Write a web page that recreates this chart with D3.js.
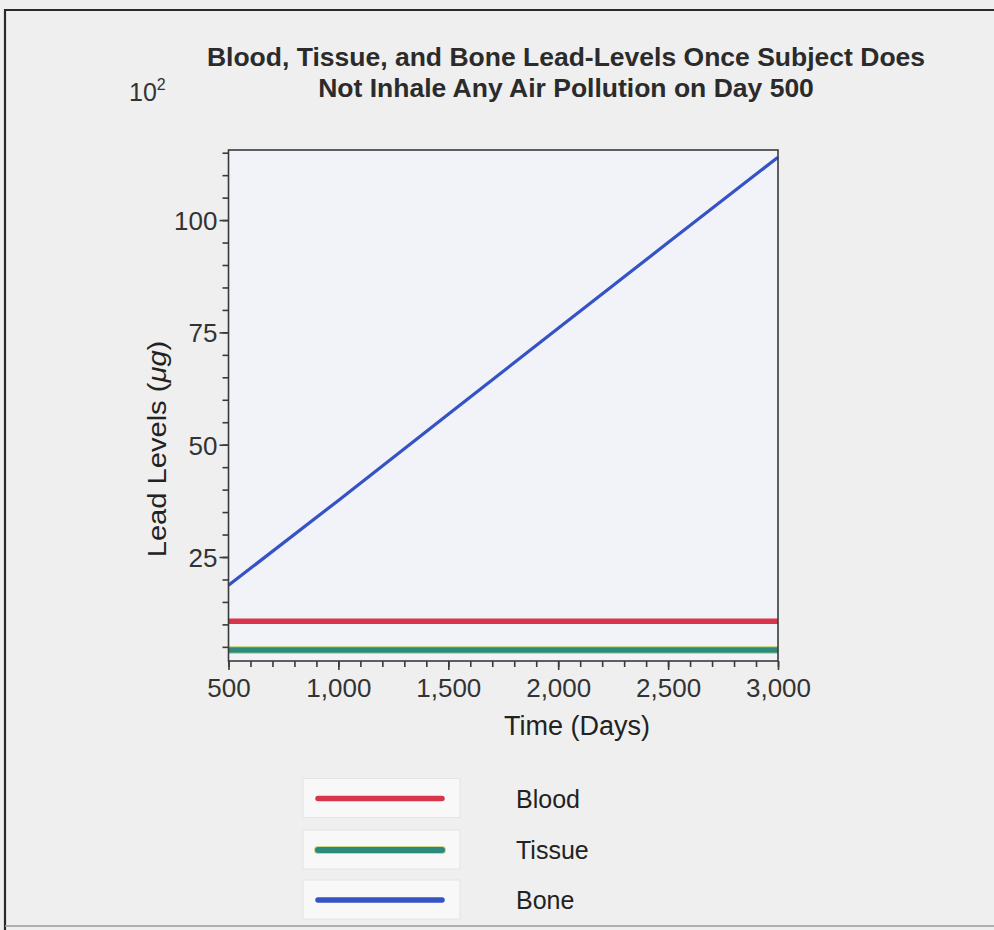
<!DOCTYPE html>
<html>
<head>
<meta charset="utf-8">
<script src="https://cdn.jsdelivr.net/npm/d3@7"></script>
<style>
  html, body { margin: 0; padding: 0; background: #efefef; }
  svg { display: block; }
  text { font-family: "Liberation Sans", Arial, sans-serif; }
</style>
</head>
<body>
<svg id="chart" width="994" height="930"></svg>
<script>
// Series (values in units of 10^2 µg), sampled along time in days
const blood  = [[500, 10.7], [1000, 10.7], [1500, 10.7], [2000, 10.7], [2500, 10.7], [3000, 10.7]];
const tissue = [[500, 4.3], [1000, 4.3], [1500, 4.3], [2000, 4.3], [2500, 4.3], [3000, 4.3]];
const bone   = [[500, 18.7], [1000, 37.6], [1500, 56.8], [2000, 75.9], [2500, 95.0], [3000, 114.0]];

const seriesNames  = ["Blood", "Tissue", "Bone"];
const seriesColors = ["#d8344b", "#2b8a7b", "#3553c4"];

const xTicks = [500, 1000, 1500, 2000, 2500, 3000];
const yTicks = [25, 50, 75, 100];

const titleLines = ["Blood, Tissue, and Bone Lead-Levels Once Subject Does",
                    "Not Inhale Any Air Pollution on Day 500"];

const svg = d3.select("#chart");
const W = 994, H = 930;

// Page background and outer frame
svg.append("rect").attr("width", W).attr("height", H).attr("fill", "#efefef");
svg.append("path").attr("fill", "none").attr("stroke", "#2a2a2a").attr("stroke-width", 2.2)
  .attr("d", `M5,${H} V10 H${W}`);
svg.append("line").attr("x1", 5).attr("x2", W).attr("y1", 926).attr("y2", 926)
  .attr("stroke", "#9a9a9a").attr("stroke-width", 1.5);

// Plot area
const plot = {left: 228.5, right: 778, top: 150, bottom: 661};

const x = d3.scaleLinear().domain([500, 3000]).range([plot.left, plot.right]);
const y = d3.scaleLinear().domain([1.85, 115.6]).range([plot.bottom, plot.top]);

svg.append("rect")
  .attr("x", plot.left).attr("y", plot.top)
  .attr("width", plot.right - plot.left).attr("height", plot.bottom - plot.top)
  .attr("fill", "#f2f2f9");

// Series lines
const line = d3.line().x(d => x(d[0])).y(d => y(d[1]));
const lines = svg.append("g");

lines.append("path").datum(blood)
  .attr("d", line).attr("fill", "none")
  .attr("stroke", seriesColors[0]).attr("stroke-width", 5.5);

lines.append("path").datum(tissue)
  .attr("d", line).attr("fill", "none")
  .attr("stroke", "#c9d98a").attr("stroke-width", 8);
lines.append("path").datum(tissue)
  .attr("d", line).attr("fill", "none")
  .attr("stroke", seriesColors[1]).attr("stroke-width", 5.5);

lines.append("path").datum(bone)
  .attr("d", line).attr("fill", "none")
  .attr("stroke", seriesColors[2]).attr("stroke-width", 3.2);

// Frame
svg.append("rect")
  .attr("x", plot.left).attr("y", plot.top)
  .attr("width", plot.right - plot.left).attr("height", plot.bottom - plot.top)
  .attr("fill", "none").attr("stroke", "#3a3a3a").attr("stroke-width", 1.6);

// Axes
const tickColor = "#3a3a3a";
const labelColor = "#333";

const xMinor = d3.range(500, 3001, 100);
const xAxisMinor = d3.axisBottom(x).tickValues(xMinor).tickSize(6).tickFormat("");
const xAxisMajor = d3.axisBottom(x).tickValues(xTicks).tickSize(9)
  .tickFormat(d3.format(","));

const gx1 = svg.append("g").attr("transform", `translate(0,${plot.bottom})`).call(xAxisMinor);
const gx2 = svg.append("g").attr("transform", `translate(0,${plot.bottom})`).call(xAxisMajor);
[gx1, gx2].forEach(g => {
  g.select(".domain").remove();
  g.selectAll("line").attr("stroke", tickColor).attr("stroke-width", 1.6);
});
gx2.selectAll("text")
  .attr("y", 18).attr("dy", "0.71em")
  .attr("fill", labelColor).style("font-size", "26px");

const yMinor = d3.range(5, 116, 5);
const yAxisMinor = d3.axisLeft(y).tickValues(yMinor).tickSize(6).tickFormat("");
const yAxisMajor = d3.axisLeft(y).tickValues(yTicks).tickSize(9).tickFormat(d3.format("d"));

const gy1 = svg.append("g").attr("transform", `translate(${plot.left},0)`).call(yAxisMinor);
const gy2 = svg.append("g").attr("transform", `translate(${plot.left},0)`).call(yAxisMajor);
[gy1, gy2].forEach(g => {
  g.select(".domain").remove();
  g.selectAll("line").attr("stroke", tickColor).attr("stroke-width", 1.6);
});
gy2.selectAll("text")
  .attr("x", -11).attr("dy", "0.36em")
  .attr("fill", labelColor).style("font-size", "26px");

// Exponent marker for the y axis
const expo = svg.append("text").attr("x", 129).attr("y", 101)
  .attr("fill", labelColor).style("font-size", "25px");
expo.append("tspan").text("10");
expo.append("tspan").attr("dy", -11).style("font-size", "16px").text("2");

// Axis titles
svg.append("text")
  .attr("x", 577).attr("y", 735)
  .attr("text-anchor", "middle").attr("fill", "#222").style("font-size", "27px")
  .text("Time (Days)");

const yl = svg.append("text")
  .attr("transform", "translate(166,449) rotate(-90) scale(1.12,1)")
  .attr("text-anchor", "middle").attr("fill", "#222").style("font-size", "26px");
yl.append("tspan").text("Lead Levels (");
yl.append("tspan").style("font-style", "italic").text("μg");
yl.append("tspan").text(")");

// Title
svg.append("g").selectAll("text").data(titleLines).join("text")
  .attr("x", 566).attr("y", (d, i) => 66 + i * 31)
  .attr("text-anchor", "middle").attr("fill", "#2b2b2b")
  .style("font-size", "26.5px").style("font-weight", "bold")
  .text(d => d);

// Legend
const legendRows = [798.5, 850, 900];
const legend = svg.append("g");
seriesNames.forEach((name, i) => {
  const cy = legendRows[i];
  legend.append("rect")
    .attr("x", 303).attr("y", cy - 20).attr("width", 157).attr("height", 39)
    .attr("fill", "#f8f8f8").attr("stroke", "#e4e4e4").attr("stroke-width", 1);
  if (name === "Tissue") {
    legend.append("line").attr("x1", 318).attr("x2", 442).attr("y1", cy).attr("y2", cy)
      .attr("stroke", "#c9d98a").attr("stroke-width", 8).attr("stroke-linecap", "round");
  }
  legend.append("line").attr("x1", 318).attr("x2", 442).attr("y1", cy).attr("y2", cy)
    .attr("stroke", seriesColors[i]).attr("stroke-width", name === "Tissue" ? 6 : 5.5)
    .attr("stroke-linecap", "round");
  legend.append("text").attr("x", 516).attr("y", cy).attr("dy", "0.36em")
    .attr("fill", "#222").style("font-size", "25px").text(name);
});
</script>
</body>
</html>
